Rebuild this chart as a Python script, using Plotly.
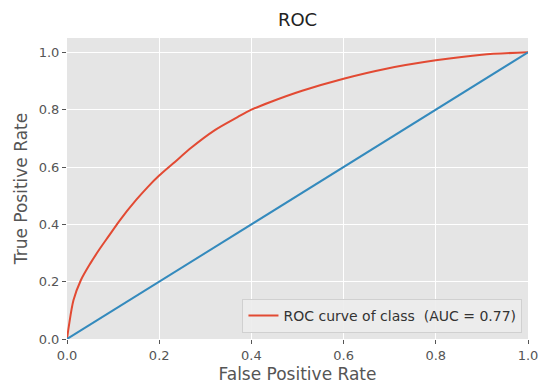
import plotly.graph_objects as go

fpr = [0.0, 0.004, 0.014, 0.03, 0.05, 0.07, 0.09, 0.115, 0.15, 0.175, 0.2,
       0.23, 0.27, 0.32, 0.37, 0.40, 0.44, 0.51, 0.60, 0.69, 0.80, 0.90, 1.0]
tpr = [0.0, 0.045, 0.135, 0.205, 0.262, 0.312, 0.358, 0.415, 0.485, 0.53, 0.57,
       0.612, 0.668, 0.728, 0.774, 0.80, 0.826, 0.866, 0.908, 0.942, 0.972, 0.992, 1.0]
diag_x = [0.0, 1.0]
diag_y = [0.0, 1.0]
tick_vals = [0.0, 0.2, 0.4, 0.6, 0.8, 1.0]
legend_label = "ROC curve of class  (AUC = 0.77)"

FONT = "DejaVu Sans"

fig = go.Figure()
fig.add_trace(go.Scatter(x=fpr, y=tpr, mode="lines", name=legend_label,
                         line=dict(color="#E24A33", width=2, shape="spline", smoothing=0.8)))
fig.add_trace(go.Scatter(x=diag_x, y=diag_y, mode="lines", showlegend=False,
                         line=dict(color="#348ABD", width=2)))

axis_common = dict(
    showline=False, zeroline=False, showgrid=True, gridcolor="white", gridwidth=1,
    ticks="outside", ticklen=4, tickcolor="#555555", tickwidth=1,
    tickfont=dict(family=FONT, size=13, color="#555555"),
    tickvals=tick_vals, tickformat=".1f", automargin=False,
)

fig.update_layout(
    width=540, height=385,
    margin=dict(l=67, r=12, t=38, b=46),
    paper_bgcolor="white", plot_bgcolor="#E5E5E5",
    title=dict(text="ROC", x=0.5, xanchor="center", xref="paper", y=1 - 20/385, yanchor="middle",
               font=dict(family=FONT, size=18, color="#222222"), automargin=False),
    xaxis=dict(range=[0, 1.0], **axis_common,
               title=dict(text="False Positive Rate", standoff=6,
                          font=dict(family=FONT, size=17, color="#555555"))),
    yaxis=dict(range=[0, 1.05], **axis_common,
               title=dict(text="True Positive Rate", standoff=6,
                          font=dict(family=FONT, size=17, color="#555555"))),
    legend=dict(x=0.988, y=0.02, xanchor="right", yanchor="bottom",
                bgcolor="rgba(236,236,236,0.9)", bordercolor="#D0D0D0", borderwidth=1,
                font=dict(family=FONT, size=14, color="#333333"),
                itemwidth=30, tracegroupgap=0),
    showlegend=True,
)

fig.write_html("out.html")
